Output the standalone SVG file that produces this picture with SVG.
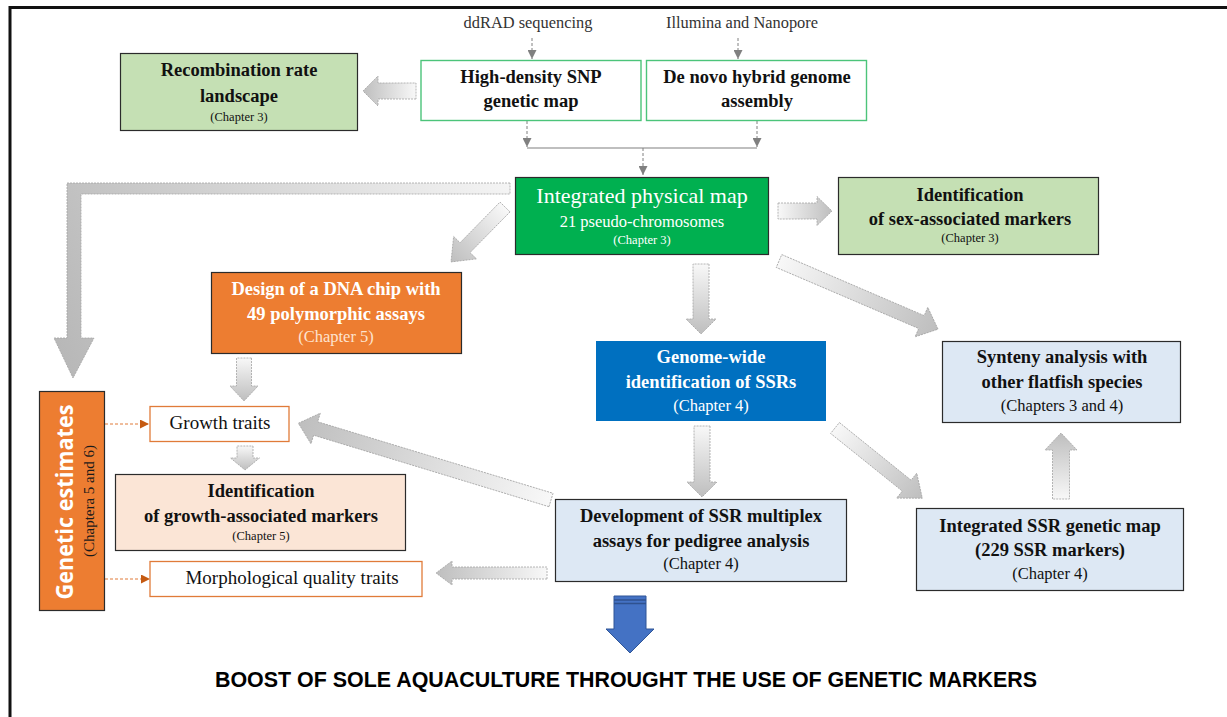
<svg xmlns="http://www.w3.org/2000/svg" width="1227" height="717" viewBox="0 0 1227 717">
<style>
.t{font-family:"Liberation Serif","DejaVu Serif",serif;text-anchor:middle;fill:#111}
.b{font-weight:bold;font-size:18.5px}
.n{font-size:19px}
.s{font-size:12.5px}
.m{font-size:16.5px}
.w{fill:#fff}
.box{stroke:#2b2b2b;stroke-width:1.2}
.ba{fill:url(#ga);stroke:#a3a3a3;stroke-width:0.8;stroke-dasharray:2 1}
.thin{stroke:#808080;stroke-width:1;fill:none;stroke-dasharray:3 2}
.od{stroke:#e07b39;stroke-width:1;fill:none;stroke-dasharray:3 2}
</style>
<defs>
<linearGradient id="ga" x1="0" y1="0" x2="1" y2="0">
<stop offset="0" stop-color="#f8f8f8"/>
<stop offset="1" stop-color="#bebebe"/>
</linearGradient>
<linearGradient id="gl" gradientUnits="userSpaceOnUse" x1="510" y1="188" x2="73" y2="378">
<stop offset="0" stop-color="#f4f4f4"/>
<stop offset="1" stop-color="#b8b8b8"/>
</linearGradient>
<marker id="mg" viewBox="0 0 10 10" refX="10" refY="5" markerWidth="9" markerHeight="9" markerUnits="userSpaceOnUse" orient="auto">
<path d="M0,0 L10,5 L0,10 Z" fill="#808080"/>
</marker>
<marker id="mo" viewBox="0 0 10 10" refX="10" refY="5" markerWidth="9" markerHeight="9" markerUnits="userSpaceOnUse" orient="auto">
<path d="M0,0 L10,5 L0,10 Z" fill="#c55a11"/>
</marker>
</defs>
<rect width="1227" height="717" fill="#fff"/>
<path d="M10,717 L10,7.5 L1227,7.5" fill="none" stroke="#111" stroke-width="3"/>

<g id="connectors">
<text class="t" x="528" y="28" style="font-size:16.4px;fill:#333">ddRAD sequencing</text>
<text class="t" x="742" y="28" style="font-size:16.4px;fill:#333">Illumina and Nanopore</text>
<line class="thin" x1="532" y1="38" x2="532" y2="59" marker-end="url(#mg)"/>
<line class="thin" x1="738" y1="38" x2="738" y2="59" marker-end="url(#mg)"/>
<line class="thin" x1="527" y1="121" x2="527" y2="147" marker-end="url(#mg)"/>
<line class="thin" x1="757" y1="121" x2="757" y2="147" marker-end="url(#mg)"/>
<line x1="527" y1="148" x2="757" y2="148" stroke="#808080" stroke-width="1.2"/>
<line class="thin" x1="643" y1="148" x2="643" y2="175" marker-end="url(#mg)"/>
<line class="od" x1="105" y1="424" x2="149" y2="424" marker-end="url(#mo)"/>
<line class="od" x1="105" y1="579" x2="150" y2="579" marker-end="url(#mo)"/>
<polygon class="ba" transform="translate(416,91) rotate(180)" points="0,-8 38,-8 38,-15 53,0 38,15 38,8 0,8"/>
<path d="M510,183 L67,183 L67,338 L54,338 L73,378 L94,338 L81,338 L81,194 L510,194 Z" fill="url(#gl)" stroke="#a3a3a3" stroke-width="0.8" stroke-dasharray="2 1"/>
<polygon class="ba" transform="translate(505,207) rotate(134.5)" points="0,-7 57,-7 57,-16 77,0 57,16 57,7 0,7"/>
<polygon class="ba" transform="translate(778,211)" points="0,-8 39,-8 39,-14.5 54,0 39,14.5 39,8 0,8"/>
<polygon class="ba" transform="translate(701,264) rotate(90)" points="0,-8 55,-8 55,-15 70,0 55,15 55,8 0,8"/>
<polygon class="ba" transform="translate(779,261) rotate(23.2)" points="0,-7 155,-7 155,-16 173,0 155,16 155,7 0,7"/>
<polygon class="ba" transform="translate(244,358) rotate(90)" points="0,-7.5 28,-7.5 28,-14 43,0 28,14 28,7.5 0,7.5"/>
<polygon class="ba" transform="translate(245,446) rotate(90)" points="0,-8 12,-8 12,-14.5 24,0 12,14.5 12,8 0,8"/>
<polygon class="ba" transform="translate(551,500) rotate(196.9)" points="0,-7 246,-7 246,-16 264,0 246,16 246,7 0,7"/>
<polygon class="ba" transform="translate(547,573) rotate(180)" points="0,-6 95,-6 95,-12 111,0 95,12 95,6 0,6"/>
<polygon class="ba" transform="translate(702,426) rotate(90)" points="0,-8 56,-8 56,-15 71,0 56,15 56,8 0,8"/>
<polygon class="ba" transform="translate(835,428) rotate(38.8)" points="0,-7 92,-7 92,-16 112,0 92,16 92,7 0,7"/>
<polygon class="ba" transform="translate(1061,499) rotate(-90)" points="0,-8.5 49,-8.5 49,-16 66,0 49,16 49,8.5 0,8.5"/>
<polygon points="614,596 646,596 646,629 654,629 630,653 606,629 614,629" fill="#4472c4" stroke="#2f5597" stroke-width="1"/>
<line x1="614" y1="600" x2="646" y2="600" stroke="#2f528f" stroke-width="1.5"/>
<line x1="614" y1="603.5" x2="646" y2="603.5" stroke="#2f528f" stroke-width="1.5"/>
</g>

<g id="recombination">
<rect class="box" x="120.5" y="53.5" width="237" height="77" fill="#c5e0b4"/>
<text class="t b" x="239" y="76">Recombination rate</text>
<text class="t b" x="239" y="102">landscape</text>
<text class="t s" x="239" y="121">(Chapter 3)</text>
</g>
<g id="snp">
<rect x="421" y="60.5" width="220" height="60" fill="#fff" stroke="#4cc47a" stroke-width="1.4"/>
<text class="t b" x="531" y="83">High-density SNP</text>
<text class="t b" x="531" y="107">genetic map</text>
</g>
<g id="denovo">
<rect x="646.5" y="60.5" width="220" height="60" fill="#fff" stroke="#4cc47a" stroke-width="1.4"/>
<text class="t b" x="757" y="83">De novo hybrid genome</text>
<text class="t b" x="757" y="107">assembly</text>
</g>
<g id="physical-map">
<rect class="box" x="515.5" y="177.5" width="253" height="77" fill="#00b050"/>
<text class="t w" x="642" y="203" style="font-size:22px">Integrated physical map</text>
<text class="t w" x="642" y="227" style="font-size:16.5px">21 pseudo-chromosomes</text>
<text class="t w s" x="642" y="244">(Chapter 3)</text>
</g>
<g id="sex-markers">
<rect class="box" x="838.5" y="177.5" width="260" height="77" fill="#c5e0b4"/>
<text class="t b" x="970" y="201">Identification</text>
<text class="t b" x="970" y="225">of sex-associated markers</text>
<text class="t s" x="970" y="242">(Chapter 3)</text>
</g>
<g id="dna-chip">
<rect class="box" x="211.5" y="272.5" width="250" height="81" fill="#ed7d31"/>
<text class="t b w" x="336" y="295">Design of a DNA chip with</text>
<text class="t b w" x="336" y="320">49 polymorphic assays</text>
<text class="t" x="336" y="342" style="font-size:16.5px;fill:#fde3cf">(Chapter 5)</text>
</g>
<g id="genome-wide">
<rect x="596" y="341" width="230" height="80" fill="#0070c0"/>
<text class="t b w" x="711" y="363">Genome-wide</text>
<text class="t b w" x="711" y="388">identification of SSRs</text>
<text class="t m w" x="711" y="411">(Chapter 4)</text>
</g>
<g id="synteny">
<rect class="box" x="942.5" y="341.5" width="238" height="81" fill="#dde8f4"/>
<text class="t b" x="1062" y="363">Synteny analysis with</text>
<text class="t b" x="1062" y="388">other flatfish species</text>
<text class="t m" x="1062" y="411">(Chapters 3 and 4)</text>
</g>
<g id="genetic-estimates">
<rect class="box" x="39.5" y="391.5" width="65" height="219" fill="#ed7d31"/>
<text transform="translate(73,502) rotate(-90)" text-anchor="middle" textLength="195" lengthAdjust="spacingAndGlyphs" style="font-family:'Open Sans','Liberation Sans',sans-serif;font-weight:bold;font-size:23px;fill:#fff">Genetic estimates</text>
<text class="t" transform="translate(94,501) rotate(-90)" style="font-size:15px;fill:#1a1a1a">(Chaptera 5 and 6)</text>
</g>
<g id="growth-traits">
<rect x="150" y="406.5" width="139" height="35" fill="#fff" stroke="#e07b39" stroke-width="1.3"/>
<text class="t n" x="220" y="429">Growth traits</text>
</g>
<g id="growth-markers">
<rect class="box" x="115.5" y="474.5" width="290" height="76" fill="#fbe5d6"/>
<text class="t b" x="261" y="497">Identification</text>
<text class="t b" x="261" y="522">of growth-associated markers</text>
<text class="t s" x="261" y="540">(Chapter 5)</text>
</g>
<g id="morph-traits">
<rect x="150" y="561.5" width="272" height="35" fill="#fff" stroke="#e07b39" stroke-width="1.3"/>
<text class="t n" x="292" y="584">Morphological quality traits</text>
</g>
<g id="ssr-multiplex">
<rect class="box" x="555.5" y="499.5" width="291" height="82" fill="#dde8f4"/>
<text class="t b" x="701" y="522">Development of SSR multiplex</text>
<text class="t b" x="701" y="547">assays for pedigree analysis</text>
<text class="t m" x="701" y="569">(Chapter 4)</text>
</g>
<g id="ssr-map">
<rect class="box" x="916.5" y="508.5" width="267" height="82" fill="#dde8f4"/>
<text class="t b" x="1050" y="532">Integrated SSR genetic map</text>
<text class="t b" x="1050" y="556">(229 SSR markers)</text>
<text class="t m" x="1050" y="579">(Chapter 4)</text>
</g>
<g id="title">
<text x="626" y="687" text-anchor="middle" textLength="822" lengthAdjust="spacingAndGlyphs" style="font-family:'Liberation Sans',Arial,sans-serif;font-weight:bold;font-size:22px;fill:#000">BOOST OF SOLE AQUACULTURE THROUGHT THE USE OF GENETIC MARKERS</text>
</g>
</svg>
